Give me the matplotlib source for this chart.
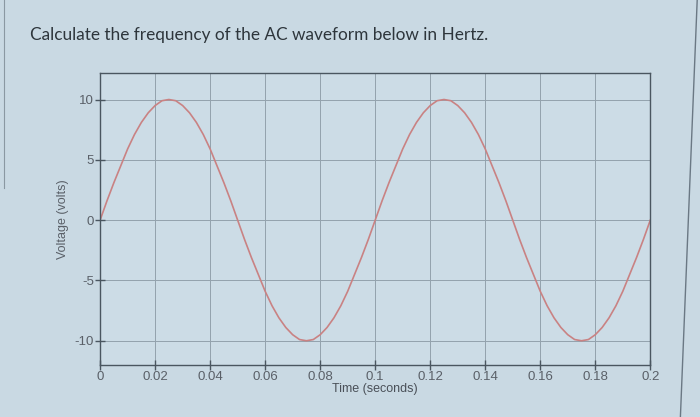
import numpy as np
import matplotlib
matplotlib.use("Agg")
import matplotlib.pyplot as plt

plt.rcParams["axes.unicode_minus"] = False

# voltage, every 2.5 ms from 0 to 0.2 s
half_up = [0.0, 1.6, 3.1, 4.5, 5.9, 7.1, 8.1, 8.9, 9.5, 9.9, 10.0,
           9.9, 9.5, 8.9, 8.1, 7.1, 5.9, 4.5, 3.1, 1.6]
half_down = [0.0, -1.6, -3.1, -4.5, -5.9, -7.1, -8.1, -8.9, -9.5, -9.9, -10.0,
             -9.9, -9.5, -8.9, -8.1, -7.1, -5.9, -4.5, -3.1, -1.6]
voltage = half_up + half_down + half_up + half_down + [0.0]
time = np.linspace(0, 0.2, len(voltage))

xticks = [0, 0.02, 0.04, 0.06, 0.08, 0.1, 0.12, 0.14, 0.16, 0.18, 0.2]
xlabels = ["0", "0.02", "0.04", "0.06", "0.08", "0.1", "0.12", "0.14", "0.16", "0.18", "0.2"]
yticks = [-10, -5, 0, 5, 10]

bg = "#c9d9e3"
fig = plt.figure(figsize=(7, 4.17), dpi=100, facecolor=bg)
ax = fig.add_axes([0.143, 0.125, 0.786, 0.70], facecolor="#ccdce6")

ax.plot(time, voltage, color="#c98283", lw=1.2)

ax.set_xlim(0, 0.2)
ax.set_ylim(-12, 12.2)
ax.set_xticks(xticks)
ax.set_xticklabels(xlabels)
ax.set_yticks(yticks)
ax.grid(True, color="#93a2ad", lw=0.7)
for s in ax.spines.values():
    s.set_color("#4a5660")
    s.set_linewidth(1.0)
ax.tick_params(direction="inout", length=7, width=1, color="#4a5660",
               labelsize=9.5, labelcolor="#5a6068", pad=1)
for lab in ax.get_xticklabels() + ax.get_yticklabels():
    lab.set_family("Liberation Sans")

ax.set_xlabel("Time (seconds)", family="Liberation Sans", fontsize=9,
              color="#4a5058", labelpad=0)
ax.set_ylabel("Voltage (volts)", family="Liberation Sans", fontsize=9,
              color="#5a6068", labelpad=4)

fig.text(0.043, 0.915, "Calculate the frequency of the AC waveform below in Hertz.",
         family="Lato", fontsize=12.4, color="#2e363c", ha="left", va="center")

# edge of the screen on the right
fig.add_artist(plt.Line2D([0.996, 0.972], [1.0, 0.0], color="#6a7884", lw=1.0))
fig.add_artist(plt.Line2D([0.006, 0.006], [1.0, 0.55], color="#8a98a2", lw=0.8))

fig.savefig("out.png", dpi=100, facecolor=bg)
